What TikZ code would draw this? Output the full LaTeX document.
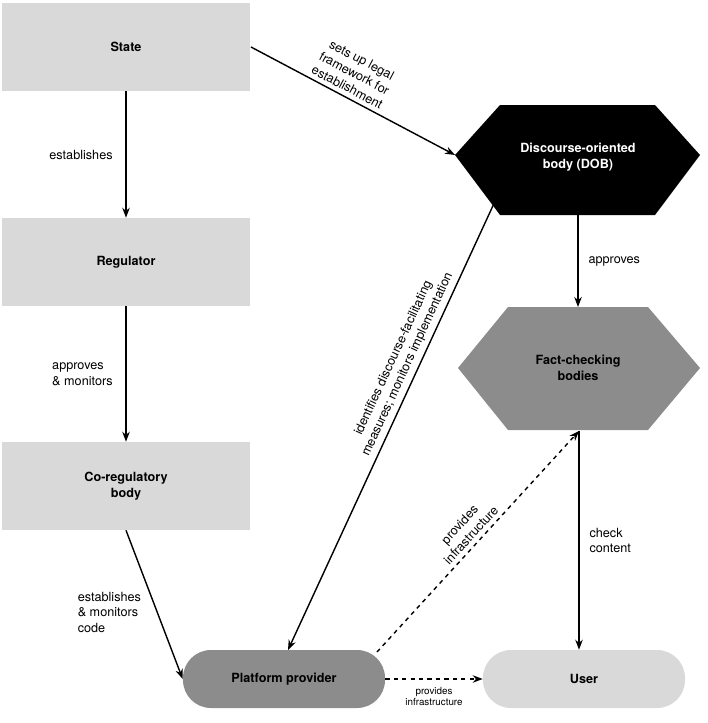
\documentclass[tikz,border=0pt]{standalone}
\usepackage{fontspec}
\setmainfont{TeX Gyre Heros}
\usetikzlibrary{calc,positioning,arrows.meta}
\tikzset{
  box/.style={fill=black!15,minimum width=6.2cm,minimum height=2.2cm,font=\bfseries\small},
  pill/.style={rounded corners=0.7cm,minimum width=5.05cm,minimum height=1.45cm,font=\bfseries\small},
  lbl/.style={font=\small,align=left,inner sep=1pt},
  arr/.style={-{Stealth[length=2.5mm]},line width=1pt}
}
\begin{document}
\begin{tikzpicture}[x=0.025cm,y=-0.025cm]
\useasboundingbox (0,0) rectangle (708,723);
% left column
\node[box] (state) at (126,47){State};
\node[box] (reg) at (126,262){Regulator};
\node[box,align=center] (coreg) at (126,486){Co-regulatory\\body};
% hexagons
\fill[black](455,155)--(500,105)--(655,105)--(700,155)--(655,215)--(500,215)--cycle;
\node[text=white,font=\bfseries\small,align=center] (dob) at (578,157){Discourse-oriented\\body (DOB)};
\fill[black!45](458,368)--(508,307)--(648,307)--(700,368)--(648,430)--(508,430)--cycle;
\node[font=\bfseries\small,align=center] (fcb) at (578,368){Fact-checking\\bodies};
\coordinate (dobl) at (455,155);
\coordinate (dobb) at (578,215);
\coordinate (dobbl) at (497,197);
\coordinate (fcbt) at (578,307);
\coordinate (fcbb) at (579,431);
% bottom row
\node[pill,fill=black!45] (pp) at (284,679){Platform provider};
\node[pill,fill=black!15] (user) at (584,679){User};
% connectors
\draw[arr] (state) -- node[lbl,left=8pt]{establishes} (reg);
\draw[arr] (reg) -- node[lbl,left=8pt]{approves\\\& monitors} (coreg);
\draw[arr] (coreg.south) -- node[lbl,left=10pt,pos=0.55]{establishes\\\& monitors\\code} (pp.west);
\draw[arr] (251,47) -- node[lbl,sloped,above=2pt,align=center,pos=0.45]{sets up legal\\framework for\\establishment} (dobl);
\draw[arr] (dobb) -- node[lbl,right=6pt]{approves} (fcbt);
\draw[arr] (dobbl) -- node[lbl,sloped,above=2pt,align=center,pos=0.38]{identifies discourse-facilitating\\measures; monitors implementation} (288,650);
\draw[arr,dashed] (377,652) -- node[lbl,sloped,above=2pt,align=center,pos=0.5]{provides\\infrastructure} (fcbb);
\draw[arr] (fcbb) -- node[lbl,right=6pt]{check\\content} (user.north -| fcbb);
\draw[arr,dashed] (pp) -- node[font=\scriptsize,below=2pt,align=center]{provides\\infrastructure} (user);
\end{tikzpicture}
\end{document}
